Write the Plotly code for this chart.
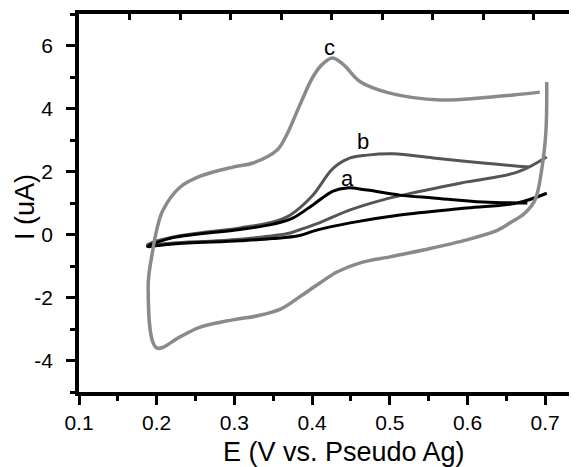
import plotly.graph_objects as go

# ---- data ----
c_E = [0.702, 0.701, 0.696, 0.687, 0.674, 0.655, 0.639, 0.599, 0.543, 0.500, 0.462, 0.432,
       0.410, 0.384, 0.360, 0.330, 0.298, 0.256, 0.230, 0.200, 0.189, 0.195, 0.200, 0.208, 0.230,
       0.256, 0.298, 0.324, 0.355, 0.368, 0.384, 0.401, 0.413, 0.426, 0.440, 0.462, 0.500, 0.565,
       0.616, 0.659, 0.693]
c_I = [4.84, 3.31, 2.14, 1.10, 0.68, 0.37, 0.14, -0.17, -0.49, -0.71, -0.90, -1.19,
       -1.54, -1.98, -2.36, -2.58, -2.71, -2.94, -3.25, -3.60, -1.67, -0.49, 0.14, 0.77, 1.50,
       1.85, 2.14, 2.27, 2.68, 3.20, 4.10, 5.00, 5.40, 5.60, 5.40, 4.85, 4.49, 4.27,
       4.33, 4.43, 4.52]

b_E = [0.702, 0.664, 0.599, 0.535, 0.491, 0.449, 0.410, 0.384, 0.372, 0.307, 0.221, 0.188,
       0.221, 0.307, 0.350, 0.372, 0.400, 0.427, 0.449, 0.471, 0.504, 0.556, 0.620, 0.680]
b_I = [2.46, 1.98, 1.67, 1.35, 1.10, 0.78, 0.38, 0.15, 0.05, -0.15, -0.27, -0.33,
       -0.08, 0.21, 0.40, 0.62, 1.22, 2.10, 2.43, 2.52, 2.56, 2.43, 2.27, 2.14]

a_E = [0.702, 0.664, 0.599, 0.513, 0.449, 0.406, 0.384, 0.350, 0.307, 0.221, 0.188,
       0.221, 0.307, 0.350, 0.375, 0.401, 0.427, 0.445, 0.471, 0.513, 0.556, 0.620, 0.677]
a_I = [1.31, 1.00, 0.84, 0.62, 0.37, 0.14, -0.03, -0.13, -0.20, -0.30, -0.38,
       -0.10, 0.16, 0.33, 0.52, 0.94, 1.38, 1.48, 1.41, 1.25, 1.16, 1.03, 1.00]

curve_labels = ["a", "b", "c"]
label_E = [0.445, 0.4655, 0.423]
label_I = [1.79, 2.94, 5.95]

x_ticks = [0.1, 0.2, 0.3, 0.4, 0.5, 0.6, 0.7]
y_ticks = [-4, -2, 0, 2, 4, 6]

# ---- figure ----
FONT = "Liberation Sans, Arial, sans-serif"
x_min, x_max = 0.1, 0.1 + 498 / 777
y_min, y_max = -5, 7
SMOOTH = 1.0

fig = go.Figure()
fig.add_trace(go.Scatter(x=b_E, y=b_I, mode="lines", line=dict(color="#555555", width=3, shape="spline", smoothing=SMOOTH), showlegend=False))
fig.add_trace(go.Scatter(x=a_E, y=a_I, mode="lines", line=dict(color="#000000", width=3, shape="spline", smoothing=SMOOTH), showlegend=False))
fig.add_trace(go.Scatter(x=c_E, y=c_I, mode="lines", line=dict(color="#8a8a8a", width=3.5, shape="spline", smoothing=SMOOTH), showlegend=False))
# empty trace for the secondary (frame) axes
fig.add_trace(go.Scatter(x=[], y=[], xaxis="x2", yaxis="y2", showlegend=False, hoverinfo="skip"))

for t, ex, iy in zip(curve_labels, label_E, label_I):
    fig.add_annotation(x=ex, y=iy, text=t, showarrow=False, xanchor="center", yanchor="middle",
                       font=dict(family=FONT, size=22, color="#000"))

fig.add_annotation(xref="paper", yref="paper", x=0.532, y=-0.159, text="E (V vs. Pseudo Ag)",
                   showarrow=False, xanchor="center", yanchor="middle",
                   font=dict(family=FONT, size=27, color="#000"))
fig.add_annotation(xref="paper", yref="paper", x=-0.108, y=0.49, text="I (uA)", textangle=-90,
                   showarrow=False, xanchor="center", yanchor="middle",
                   font=dict(family=FONT, size=27, color="#000"))

fig.update_layout(
    width=569, height=459,
    margin=dict(l=71, r=0, t=6, b=75),
    paper_bgcolor="white", plot_bgcolor="white",
    font=dict(family=FONT, size=21, color="#000"),
    xaxis=dict(range=[x_min, x_max], tickvals=x_ticks, ticktext=[f"{v:.1f}" for v in x_ticks],
               ticks="outside", ticklen=9, tickwidth=3, tickcolor="#000",
               showline=True, linewidth=3.5, linecolor="#000", mirror=False,
               showgrid=False, zeroline=False,
               minor=dict(ticks="outside", ticklen=5, tickwidth=3, tickcolor="#000", tick0=0.1, dtick=0.05)),
    yaxis=dict(range=[y_min, y_max], tickvals=y_ticks, ticktext=[str(v) for v in y_ticks],
               ticks="outside", ticklen=9, tickwidth=3, tickcolor="#000", ticklabelstandoff=9,
               showline=True, linewidth=3.5, linecolor="#000", mirror=False,
               showgrid=False, zeroline=False,
               minor=dict(ticks="outside", ticklen=5, tickwidth=3, tickcolor="#000", tick0=-5, dtick=1)),
    xaxis2=dict(overlaying="x", side="top", anchor="y",
                range=[0, 10 * (x_max - x_min) / 0.65], dtick=1, tick0=0,
                ticks="inside", ticklen=6, tickwidth=3, tickcolor="#000", showticklabels=False,
                showline=True, linewidth=3.5, linecolor="#000", showgrid=False, zeroline=False),
    yaxis2=dict(overlaying="y", side="right", anchor="x",
                range=[0, 5], dtick=1, tick0=0,
                ticks="inside", ticklen=3, tickwidth=3, tickcolor="#000", showticklabels=False,
                showline=False, showgrid=False, zeroline=False),
)

fig.write_html("out.html")
